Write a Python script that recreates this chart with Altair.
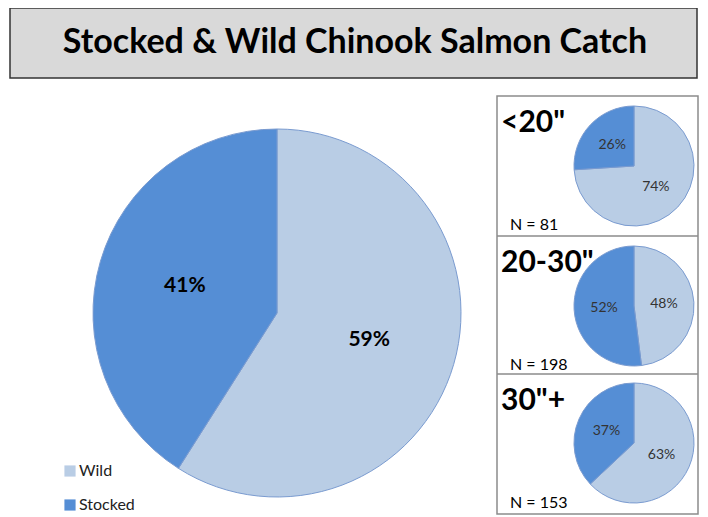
import altair as alt
import pandas as pd

# ---- data ----
title_text = "Stocked & Wild Chinook Salmon Catch"
types = ["Wild", "Stocked"]
overall_pct = [59, 41]

size_groups = ['<20"', '20-30"', '30"+']
size_wild_pct = [74, 48, 63]
size_stocked_pct = [26, 52, 37]
size_n = [81, 198, 153]

colors = ["#b9cde5", "#558ed5"]

FONT = "Lato"
W, H = 692, 509

color_scale = alt.Scale(domain=types, range=colors)


def pie_layers(pcts, cx, cy, r, label_r, label_size, label_weight, label_color, legend=False):
    df = pd.DataFrame({"type": types, "pct": pcts, "order": [0, 1]})
    df["label"] = df["pct"].astype(str) + "%"
    base = alt.Chart(df)
    color_enc = alt.Color(
        "type:N",
        scale=color_scale,
        sort=types,
        legend=alt.Legend(
            title=None,
            orient="none",
            legendX=54,
            legendY=455,
            symbolType="square",
            symbolSize=125,
            symbolStrokeWidth=0,
            labelFontSize=16,
            labelFont=FONT,
            labelColor="#222",
            rowPadding=18,
            labelOffset=1,
        ) if legend else None,
    )
    arc = base.mark_arc(stroke="#7a9bd0", strokeWidth=1).encode(
        theta=alt.Theta("pct:Q", stack=True, scale=alt.Scale(domain=[0, 100])),
        order=alt.Order("order:Q"),
        color=color_enc,
        x=alt.value(cx),
        y=alt.value(cy),
        radius=alt.value(r),
    )
    txt = base.mark_text(
        fontSize=label_size, fontWeight=label_weight, font=FONT, color=label_color
    ).encode(
        theta=alt.Theta("pct:Q", stack=True, scale=alt.Scale(domain=[0, 100])),
        order=alt.Order("order:Q"),
        text="label:N",
        x=alt.value(cx),
        y=alt.value(cy),
        radius=alt.value(label_r),
    )
    return [arc, txt]


one = alt.Chart(pd.DataFrame({"k": [0]}))


def box(x, x2, y, y2, fill, stroke, sw):
    return one.mark_rect(fill=fill, stroke=stroke, strokeWidth=sw).encode(
        x=alt.value(x), x2=alt.value(x2), y=alt.value(y), y2=alt.value(y2)
    )


def label(text, x, y, size, weight="normal", align="left", baseline="alphabetic"):
    return one.mark_text(
        text=text, fontSize=size, fontWeight=weight, font=FONT, color="#000",
        align=align, baseline=baseline,
    ).encode(x=alt.value(x), y=alt.value(y))


layers = []
# title box
layers.append(box(2, 689, 0, 70, "#d9d9d9", "#333333", 1.5))
layers.append(label(title_text, 347, 35, 34, "bold", align="center", baseline="middle"))

# right panels
layers.append(box(489, 690, 88, 506, "transparent", "#8c8c8c", 1.5))
layers.append(box(489, 690, 228, 228, "transparent", "#8c8c8c", 1.5))
layers.append(box(489, 690, 366, 366, "transparent", "#8c8c8c", 1.5))

# big pie
layers += pie_layers(overall_pct, 269, 305, 184, 96, 21, "bold", "#000", legend=True)

# small pies
centers_y = [158, 298, 435]
panel_tops = [88, 228, 366]
for i in range(3):
    layers += pie_layers([size_wild_pct[i], size_stocked_pct[i]], 626, centers_y[i], 60, 30,
                         14, "normal", "#333")
    layers.append(label(size_groups[i], 493, panel_tops[i] + 36, 30, "bold"))
    layers.append(label(f"N = {size_n[i]}", 502, panel_tops[i] + 134, 16))

chart = alt.layer(*layers).properties(
    width=W, height=H, padding=0, autosize=alt.AutoSizeParams(type="none")
).configure_view(stroke=None)

chart.save("out.html", embed_options={"renderer": "svg", "actions": False})
